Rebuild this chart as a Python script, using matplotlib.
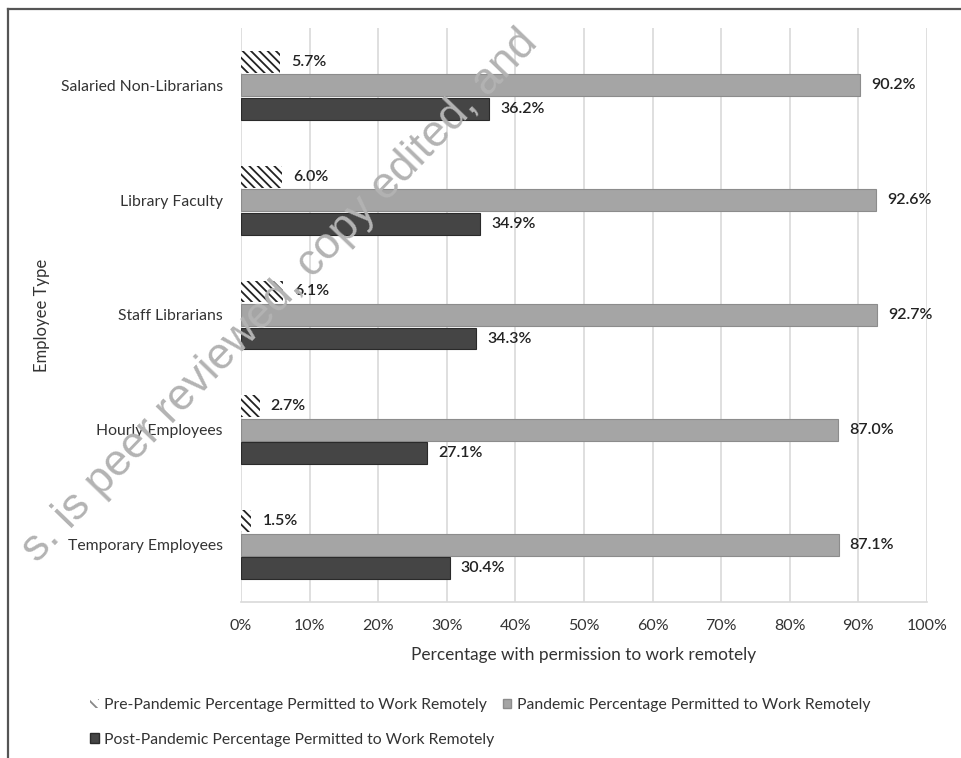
import matplotlib.pyplot as plt
import numpy as np
from matplotlib.patches import Patch
from matplotlib.lines import Line2D

# Survey results by employee type (percent)
categories = ['Salaried Non-Librarians', 'Library Faculty', 'Staff Librarians',
              'Hourly Employees', 'Temporary Employees']
pre_pandemic = [5.7, 6.0, 6.1, 2.7, 1.5]
pandemic = [90.2, 92.6, 92.7, 87.0, 87.1]
post_pandemic = [36.2, 34.9, 34.3, 27.1, 30.4]

series_labels = ['Pre-Pandemic Percentage Permitted to Work Remotely',
                 'Pandemic Percentage Permitted to Work Remotely',
                 'Post-Pandemic Percentage Permitted to Work Remotely']
x_ticks = list(range(0, 101, 10))

plt.rcParams['font.family'] = ['Lato', 'DejaVu Sans']
plt.rcParams['hatch.linewidth'] = 1.3
text_color = '#333333'

fig = plt.figure(figsize=(9.61, 7.58), dpi=100)
ax = fig.add_axes([241 / 961, 1 - 602 / 758, (927 - 241) / 961, (602 - 28) / 758])

y = np.arange(len(categories))
h = 0.19
step = 0.205

bars_pre = ax.barh(y - step, pre_pandemic, height=h, color='white',
                   edgecolor='#222222', hatch='\\\\\\\\', linewidth=0, zorder=3)
bars_pan = ax.barh(y, pandemic, height=h, color='#a5a5a5',
                   edgecolor='#8c8c8c', linewidth=0.8, zorder=3)
bars_post = ax.barh(y + step, post_pandemic, height=h, color='#454545',
                    edgecolor='#2a2a2a', linewidth=0.8, zorder=3)

for bars, vals in [(bars_pre, pre_pandemic), (bars_pan, pandemic), (bars_post, post_pandemic)]:
    for b, v in zip(bars, vals):
        ax.annotate(f'{v:.1f}%', (v, b.get_y() + b.get_height() / 2),
                    xytext=(8, 0), textcoords='offset points',
                    va='center', ha='left', fontsize=11.5, color='#222222',
                    fontweight='semibold')

ax.set_xlim(0, 100)
ax.set_ylim(len(categories) - 0.5, -0.5)
ax.set_xticks(x_ticks)
ax.set_xticklabels([f'{t}%' for t in x_ticks], fontsize=11.5, color=text_color)
ax.set_yticks(y)
ax.set_yticklabels(categories, fontsize=11.3, color=text_color)
ax.tick_params(axis='both', length=0)
ax.tick_params(axis='x', pad=12)
ax.tick_params(axis='y', pad=13)
ax.grid(axis='x', color='#d9d9d9', linewidth=1.2, zorder=0)
ax.set_axisbelow(True)
for side in ['top', 'right', 'left']:
    ax.spines[side].set_visible(False)
ax.spines['bottom'].set_color('#d9d9d9')
ax.spines['bottom'].set_linewidth(1.2)

ax.set_xlabel('Percentage with permission to work remotely', fontsize=12.4,
              color=text_color, labelpad=10)
fig.text(42 / 961, 1 - 315 / 758, 'Employee Type', rotation=90, fontsize=12,
         color=text_color, ha='center', va='center')

# legend: two items on the first row, one on the second
handles = [Patch(facecolor='white', edgecolor='#888888', hatch='\\\\\\', linewidth=0),
           Patch(facecolor='#454545', edgecolor='#2a2a2a'),
           Patch(facecolor='#a5a5a5', edgecolor='#8c8c8c')]
labels = [series_labels[0], series_labels[2], series_labels[1]]
fig.legend(handles, labels, ncol=2, loc='upper left',
           bbox_to_anchor=(84 / 961, 1 - 692 / 758), frameon=False,
           fontsize=11.3, labelcolor=text_color, handlelength=0.55, handleheight=0.55,
           handletextpad=0.35, labelspacing=1.3, columnspacing=0.5, borderaxespad=0)

# outer frame
fig.add_artist(Line2D([8 / 961, 8 / 961], [0, 1 - 9 / 758], transform=fig.transFigure,
                      color='#555555', linewidth=1.6))
fig.add_artist(Line2D([8 / 961, 1], [1 - 9 / 758, 1 - 9 / 758], transform=fig.transFigure,
                      color='#555555', linewidth=1.6))

# diagonal notice across the page
fig.text(280 / 961, 1 - 296 / 758, 's. is peer reviewed, copy edited, and',
         rotation=46, rotation_mode='anchor', ha='center', va='center',
         fontsize=32, color='#b3b3b3', family='Liberation Sans', zorder=10)

fig.savefig('out.png', dpi=100)
